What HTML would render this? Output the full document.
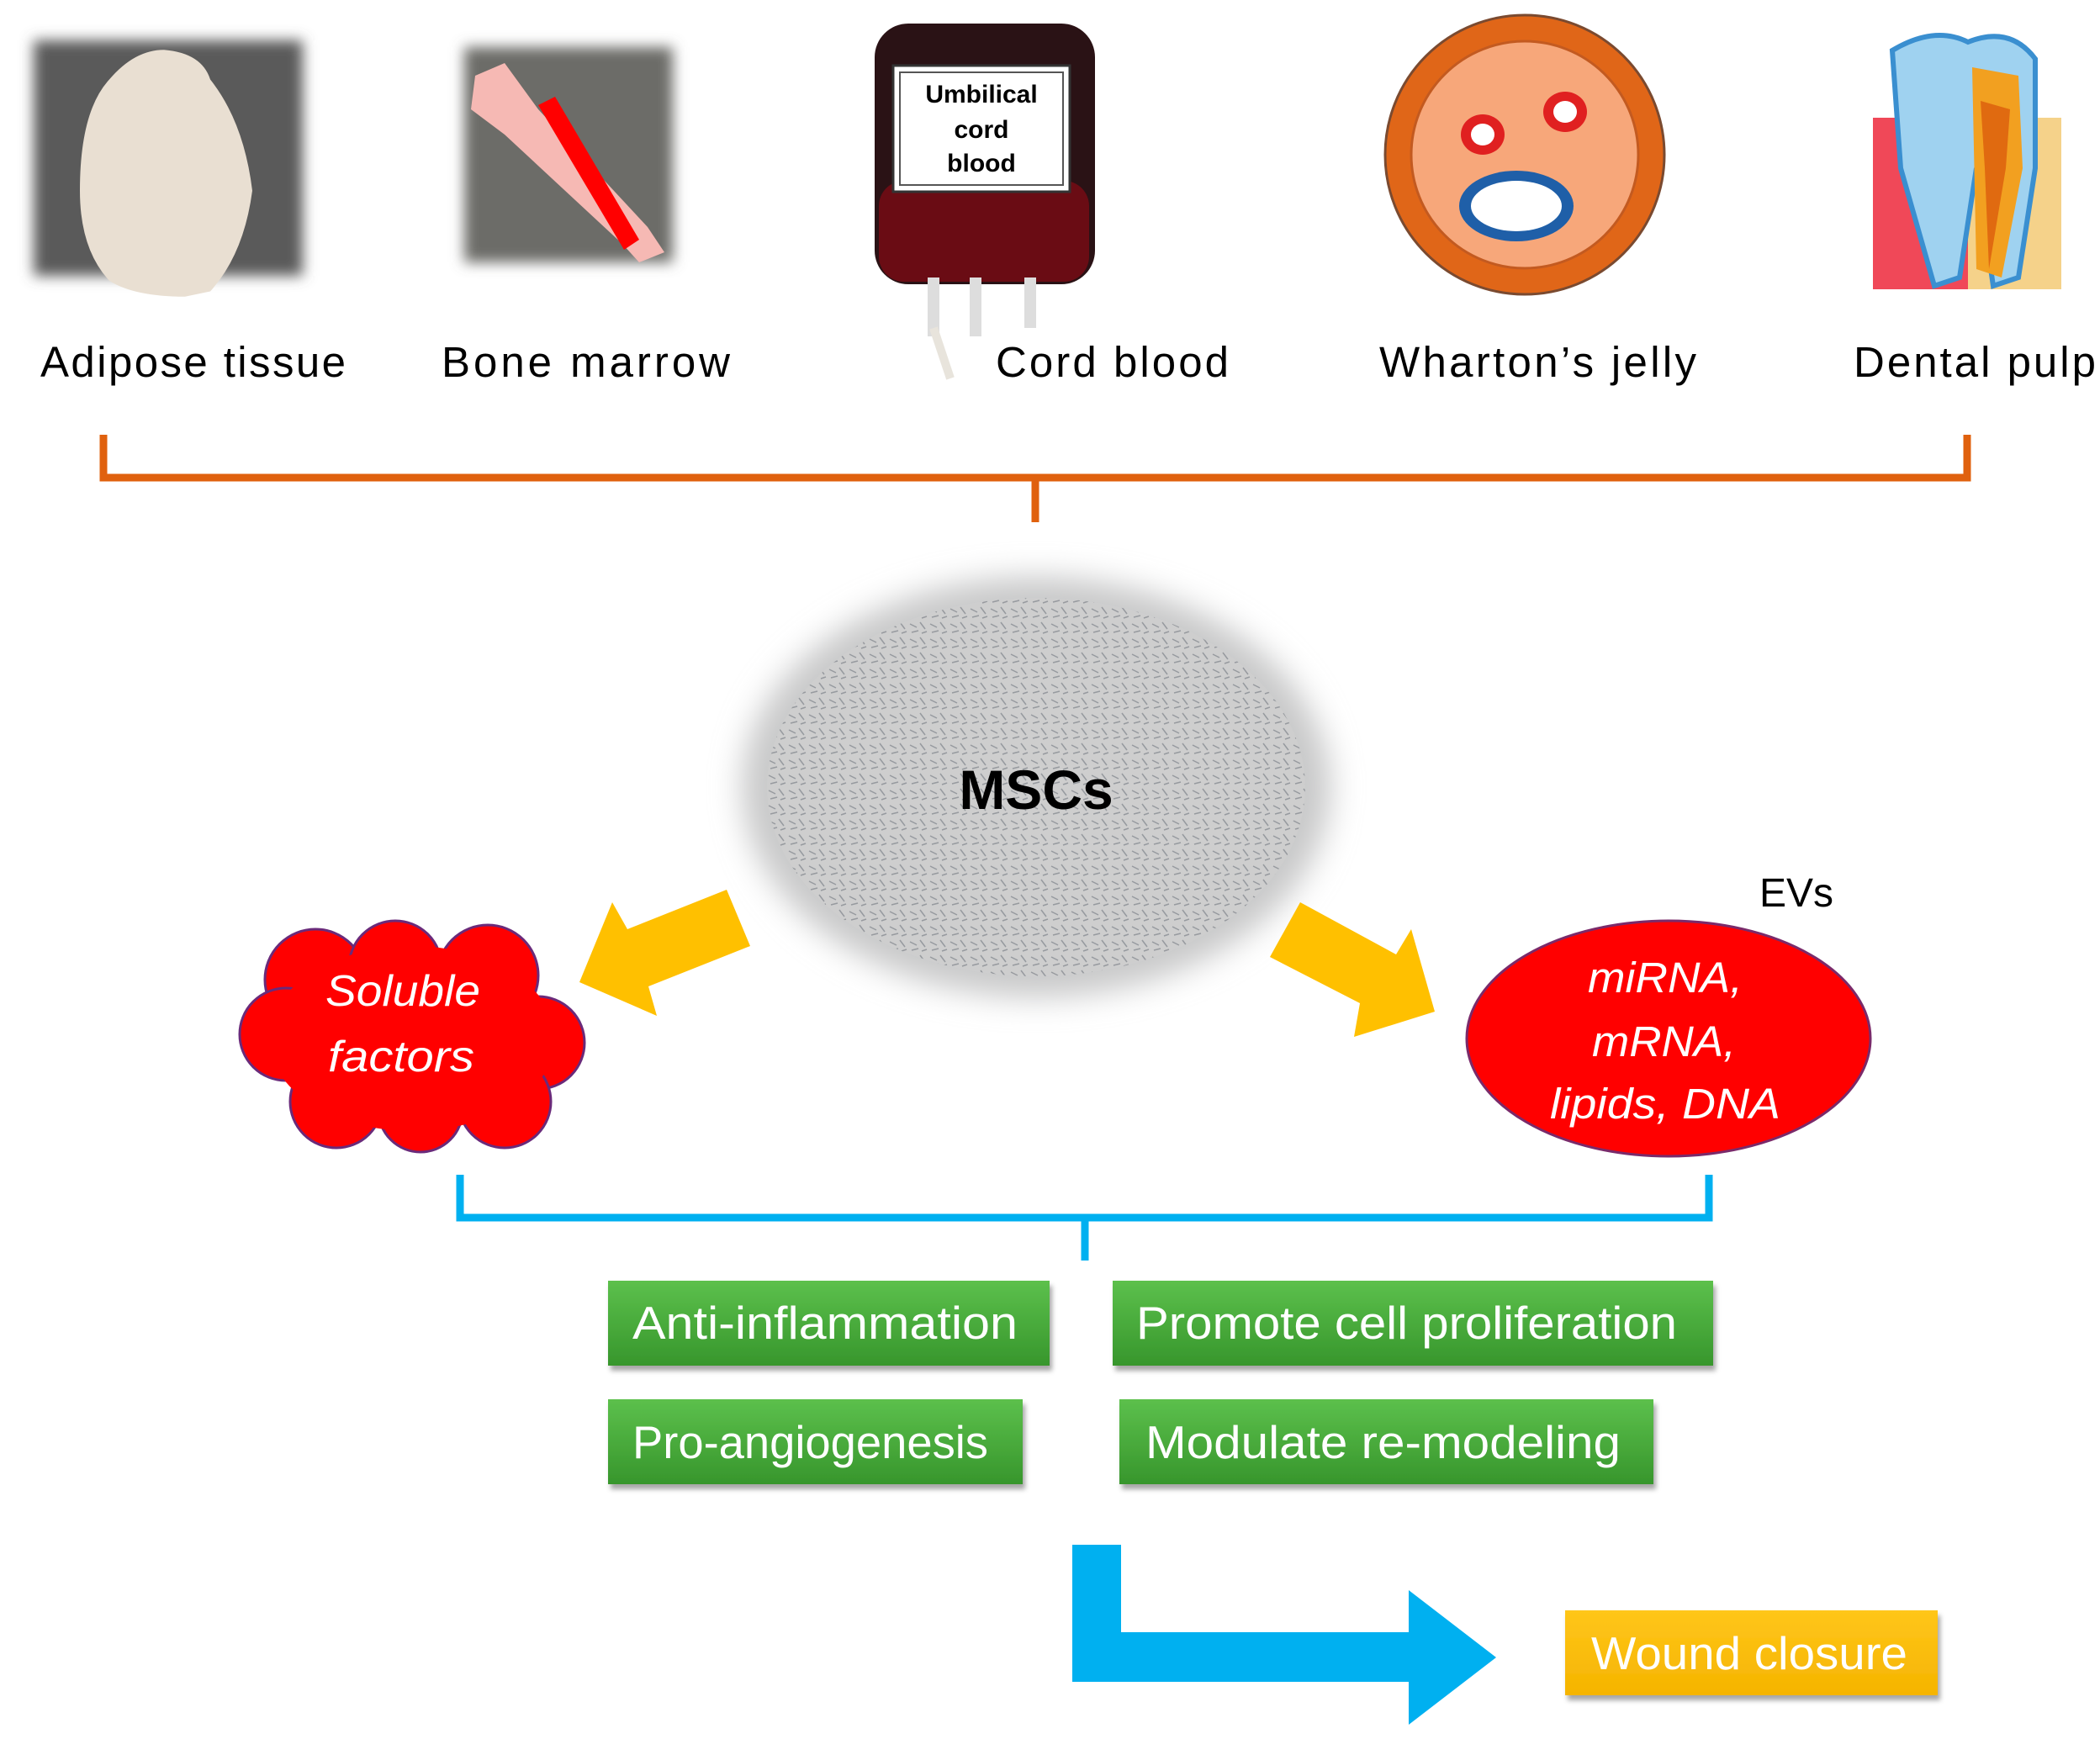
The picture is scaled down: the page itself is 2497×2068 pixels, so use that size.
<!DOCTYPE html>
<html><head><meta charset="utf-8"><style>
body{margin:0;background:#fff;}
svg{display:block}
text{font-family:"Liberation Sans",sans-serif;}
</style></head><body>
<svg width="2497" height="2068" viewBox="0 0 2497 2068" xmlns="http://www.w3.org/2000/svg">
<defs>
<filter id="blur8"><feGaussianBlur stdDeviation="8"/></filter>
<filter id="blur20"><feGaussianBlur stdDeviation="18"/></filter>
<pattern id="cells" width="24" height="18" patternUnits="userSpaceOnUse">
<rect width="24" height="18" fill="#cfcfcf"/>
<path d="M2 4 L10 8 M14 2 L20 10 M4 14 L12 12 M16 15 L22 13" stroke="#8a8e94" stroke-width="1.5"/>
</pattern>
<linearGradient id="gr" x1="0" y1="0" x2="0" y2="1"><stop offset="0" stop-color="#5cc04c"/><stop offset="1" stop-color="#37962c"/></linearGradient>
<linearGradient id="yl" x1="0" y1="0" x2="0" y2="1"><stop offset="0" stop-color="#ffc61a"/><stop offset="1" stop-color="#f5b400"/></linearGradient>
<filter id="sh"><feDropShadow dx="3" dy="6" stdDeviation="3" flood-color="#000" flood-opacity="0.35"/></filter>
</defs>

<!-- Adipose -->
<rect x="40" y="48" width="320" height="280" fill="#5a5a5a" filter="url(#blur8)"/>
<path d="M195 64 Q240 70 250 120 Q290 200 300 330 Q290 450 250 520 L220 530 Q160 530 130 500 Q95 440 95 330 Q95 180 130 120 Q160 64 195 64Z" transform="scale(1,0.63) translate(0,30)" fill="#e9dfd2"/>
<!-- Bone -->
<rect x="552" y="56" width="248" height="256" fill="#6c6c68" filter="url(#blur8)"/>
<path d="M565 90 L600 75 L640 130 L770 270 L790 300 L760 312 L740 290 L600 160 L560 130Z" fill="#f6b9b4"/>
<path d="M640 125 L660 115 L760 285 L742 297Z" fill="#ff0000"/>
<!-- Cord blood bag -->
<rect x="1040" y="28" width="262" height="310" rx="40" fill="#2a1215"/>
<rect x="1045" y="215" width="250" height="120" rx="30" fill="#6a0c14"/>
<rect x="1062" y="78" width="210" height="150" fill="#fff" stroke="#333" stroke-width="3"/>
<rect x="1070" y="86" width="194" height="134" fill="none" stroke="#555" stroke-width="2"/>
<text x="1167" y="122" font-size="30" font-weight="bold" text-anchor="middle">Umbilical</text>
<text x="1167" y="164" font-size="30" font-weight="bold" text-anchor="middle">cord</text>
<text x="1167" y="204" font-size="30" font-weight="bold" text-anchor="middle">blood</text>
<path d="M1110 330 L1110 400 M1160 330 L1160 400 M1225 330 L1225 390" stroke="#ddd" stroke-width="14"/>
<path d="M1110 390 L1130 450" stroke="#e8e4dc" stroke-width="10"/>
<!-- Wharton -->
<circle cx="1813" cy="184" r="166" fill="#e06618" stroke="#7a4a30" stroke-width="3"/>
<circle cx="1813" cy="184" r="135" fill="#f7a77a" stroke="#c35a20" stroke-width="3"/>
<ellipse cx="1763" cy="160" rx="26" ry="24" fill="#e02020"/><ellipse cx="1763" cy="160" rx="14" ry="13" fill="#fff"/>
<ellipse cx="1861" cy="133" rx="26" ry="24" fill="#e02020"/><ellipse cx="1861" cy="133" rx="14" ry="13" fill="#fff"/>
<ellipse cx="1803" cy="245" rx="68" ry="42" fill="#1f5fa8"/><ellipse cx="1803" cy="245" rx="54" ry="30" fill="#fff"/>
<!-- Tooth -->
<rect x="2227" y="140" width="224" height="204" fill="#f04858"/>
<rect x="2340" y="140" width="111" height="204" fill="#f5d28a"/>
<path d="M2250 60 Q2300 30 2340 50 Q2390 30 2420 70 L2420 200 L2400 330 L2370 340 L2350 200 L2330 330 L2300 340 L2260 200 Z" fill="#9fd2f0" stroke="#3a8fd0" stroke-width="6"/>
<path d="M2345 80 L2400 90 L2405 200 L2380 330 L2350 320 Z" fill="#f2a020"/>
<path d="M2355 120 L2390 130 L2385 200 L2365 320 L2360 200Z" fill="#e06a10"/>

<!-- labels -->
<g font-size="51" fill="#000">
<text x="48" y="448" textLength="363" lengthAdjust="spacing">Adipose  tissue</text>
<text x="525" y="448" textLength="343" lengthAdjust="spacing">Bone  marrow</text>
<text x="1184" y="448" textLength="277" lengthAdjust="spacing">Cord blood</text>
<text x="1640" y="448" textLength="377" lengthAdjust="spacing">Wharton’s jelly</text>
<text x="2204" y="448" textLength="288" lengthAdjust="spacing">Dental pulp</text>
</g>

<!-- orange brace -->
<path d="M123 517 L123 568 L2339 568 L2339 517 M1231 568 L1231 621" fill="none" stroke="#e0610e" stroke-width="9"/>

<!-- MSCs -->
<ellipse cx="1232" cy="936" rx="350" ry="250" fill="url(#cells)" filter="url(#blur20)"/>
<ellipse cx="1232" cy="936" rx="320" ry="225" fill="url(#cells)" opacity="0.8"/>
<text x="1232" y="962" font-size="66" font-weight="bold" text-anchor="middle">MSCs</text>

<!-- yellow arrows -->
<polygon points="864,1058 892,1125 771,1173 781,1208 689,1168 728,1073 746,1105" fill="#ffc000"/>
<polygon points="1546,1073 1510,1138 1617,1193 1610,1233 1706,1203 1678,1105 1660,1135" fill="#ffc000"/>

<!-- cloud -->
<g fill="#ff0000" stroke="#6a2a7a" stroke-width="3">
<circle cx="375" cy="1165" r="60"/><circle cx="470" cy="1150" r="55"/><circle cx="580" cy="1160" r="60"/>
<circle cx="640" cy="1240" r="55"/><circle cx="600" cy="1310" r="55"/><circle cx="500" cy="1320" r="50"/>
<circle cx="400" cy="1310" r="55"/><circle cx="340" cy="1230" r="55"/>
</g>
<ellipse cx="490" cy="1235" rx="170" ry="110" fill="#ff0000"/>
<g font-size="52" font-style="italic" fill="#fff">
<text x="387" y="1196" textLength="184" lengthAdjust="spacingAndGlyphs">Soluble</text>
<text x="390" y="1274" textLength="174" lengthAdjust="spacingAndGlyphs">factors</text>
</g>

<!-- EVs -->
<text x="2136" y="1078" font-size="48" text-anchor="middle">EVs</text>
<ellipse cx="1984" cy="1235" rx="240" ry="140" fill="#ff0000" stroke="#7a2a6a" stroke-width="3"/>
<g font-size="51" font-style="italic" fill="#fff">
<text x="1888" y="1180" textLength="184" lengthAdjust="spacingAndGlyphs">miRNA,</text>
<text x="1893" y="1256" textLength="171" lengthAdjust="spacingAndGlyphs">mRNA,</text>
<text x="1843" y="1330" textLength="274" lengthAdjust="spacingAndGlyphs">lipids, DNA</text>
</g>

<!-- blue brace -->
<path d="M547 1397 L547 1448 L2032 1448 L2032 1397 M1290 1448 L1290 1499" fill="none" stroke="#00b0f0" stroke-width="9"/>

<!-- green boxes -->
<g filter="url(#sh)">
<rect x="723" y="1523" width="525" height="101" fill="url(#gr)"/>
<rect x="1323" y="1523" width="714" height="101" fill="url(#gr)"/>
<rect x="723" y="1664" width="493" height="101" fill="url(#gr)"/>
<rect x="1331" y="1664" width="635" height="101" fill="url(#gr)"/>
<rect x="1861" y="1915" width="443" height="101" fill="url(#yl)"/>
</g>
<g font-size="55" fill="#fff">
<text x="752" y="1592" textLength="458" lengthAdjust="spacingAndGlyphs">Anti-inflammation</text>
<text x="1351" y="1592" textLength="643" lengthAdjust="spacingAndGlyphs">Promote cell proliferation</text>
<text x="752" y="1734" textLength="423" lengthAdjust="spacingAndGlyphs">Pro-angiogenesis</text>
<text x="1362" y="1734" textLength="565" lengthAdjust="spacingAndGlyphs">Modulate re-modeling</text>
<text x="1892" y="1985" textLength="376" lengthAdjust="spacingAndGlyphs">Wound closure</text>
</g>

<!-- blue L arrow -->
<polygon points="1275,1837 1333,1837 1333,1941 1675,1941 1675,1891 1779,1971 1675,2051 1675,2000 1275,2000" fill="#00b0f0"/>
</svg>
</body></html>
